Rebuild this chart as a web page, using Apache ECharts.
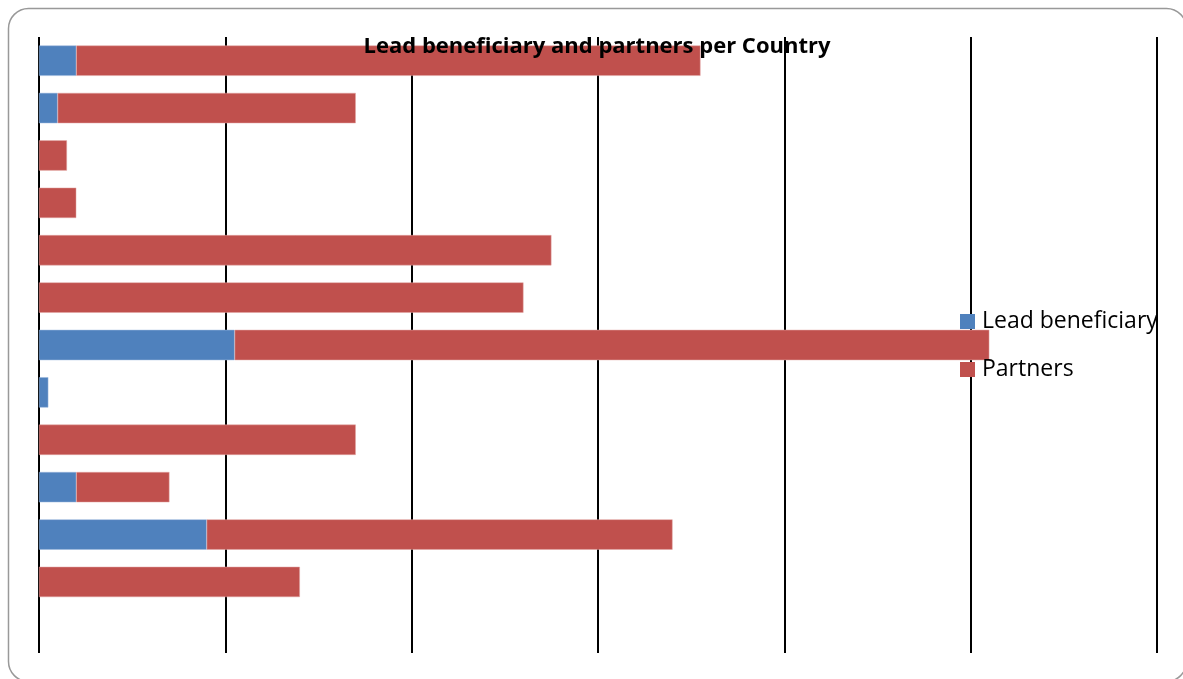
<!DOCTYPE html>
<html>
<head>
<meta charset="utf-8">
<script src="https://cdn.jsdelivr.net/npm/echarts@6/dist/echarts.min.js"></script>
<style>
html,body{margin:0;padding:0;background:#fff;}
#chart{width:1183px;height:679px;}
</style>
</head>
<body>
<div id="chart"></div>
<script>
// Category labels are not visible in the reference; generic placeholders (hidden)
const categories = ['C1','C2','C3','C4','C5','C6','C7','C8','C9','C10','C11','C12',''];
const leadBeneficiary = [4, 2, 0, 0, 0, 0, 21, 1, 0, 4, 18, 0, 0];
const partners = [67, 32, 3, 4, 55, 52, 81, 0, 34, 10, 50, 28, 0];
const xTicks = {min: 0, max: 120, interval: 20};
const titleText = 'Lead beneficiary and partners per Country';
const seriesNames = ['Lead beneficiary', 'Partners'];

const hideZero = arr => arr.map(v => (v === 0 ? '-' : v));

const chart = echarts.init(document.getElementById('chart'));
const font = '"Open Sans", Lato, sans-serif';
chart.setOption({
  animation: false,
  backgroundColor: '#fff',
  title: {
    text: titleText,
    left: 592, top: 31, textAlign: 'center',
    textStyle: {fontFamily: font, fontWeight: 'bold', fontSize: 22, color: '#000'},
    z: 10
  },
  legend: {
    orient: 'vertical',
    left: 955, top: 305,
    itemWidth: 15, itemHeight: 15, itemGap: 25,
    icon: 'rect',
    itemStyle: {borderWidth: 0},
    textStyle: {fontFamily: font, fontSize: 23, color: '#000', padding: [0,0,0,2]},
    data: seriesNames
  },
  graphic: [{
    type: 'rect',
    shape: {x: 8.5, y: 8.5, width: 1178, height: 673, r: 20},
    style: {fill: 'none', stroke: '#999', lineWidth: 1.5},
    silent: true, z: -10
  }],
  grid: {left: 39, right: 26, top: 37, bottom: 26, containLabel: false},
  xAxis: {
    type: 'value', min: xTicks.min, max: xTicks.max, interval: xTicks.interval,
    axisLine: {show: false}, axisTick: {show: false}, axisLabel: {show: false},
    splitLine: {show: true, lineStyle: {color: '#000', width: 2}}
  },
  yAxis: {
    type: 'category', data: categories, inverse: true,
    axisLine: {show: false}, axisTick: {show: false}, axisLabel: {show: false},
    splitLine: {show: false}
  },
  series: [
    {
      name: seriesNames[0], type: 'bar', stack: 'total', data: hideZero(leadBeneficiary),
      barWidth: '64%',
      itemStyle: {color: '#4F81BD', borderColor: '#9DB9DF', borderWidth: 0.5}
    },
    {
      name: seriesNames[1], type: 'bar', stack: 'total', data: hideZero(partners),
      barWidth: '64%',
      itemStyle: {color: '#C0504D', borderColor: '#E3A6A4', borderWidth: 0.5}
    }
  ]
});
</script>
</body>
</html>
